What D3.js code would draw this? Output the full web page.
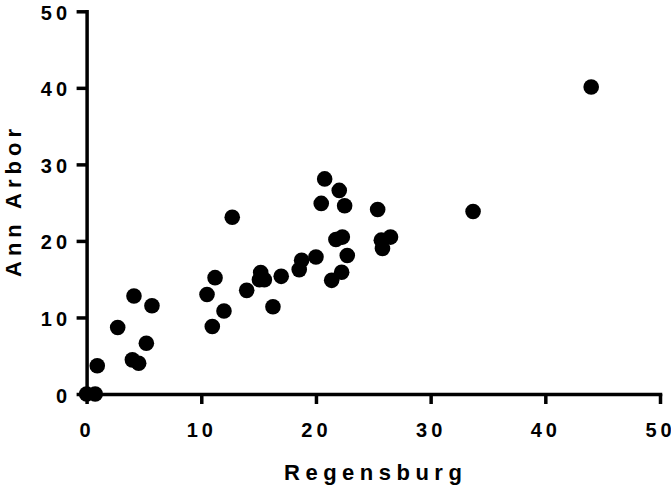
<!DOCTYPE html>
<html>
<head>
<meta charset="utf-8">
<script src="https://cdn.jsdelivr.net/npm/d3@7"></script>
<style>
  html, body { margin: 0; padding: 0; background: #fff; }
  svg { display: block; }
  text { font-family: "Liberation Sans", Arial, sans-serif; font-weight: bold; fill: #000; }
</style>
</head>
<body>
<svg id="chart" width="671" height="485"></svg>
<script>
const regensburg = [0, 0.75, 0.93, 2.71, 4.13, 5.70, 5.21, 3.99, 4.54, 10.5, 11.2, 11.98, 10.96, 12.7, 13.96,
  15.18, 15.07, 15.5, 16.97, 16.25, 18.54, 18.75, 20.0, 20.76, 22.03, 20.46, 22.5, 25.38, 21.74, 22.3,
  22.73, 22.24, 21.37, 25.7, 26.5, 25.8, 33.7, 44.0];
const annArbor = [0, 0, 3.7, 8.69, 12.8, 11.53, 6.64, 4.46, 4.02, 13.0, 15.2, 10.84, 8.82, 23.1, 13.54,
  15.86, 14.94, 14.94, 15.37, 11.4, 16.25, 17.47, 17.9, 28.1, 26.6, 24.9, 24.6, 24.1, 20.18, 20.5,
  18.09, 15.9, 14.85, 20.1, 20.5, 19.0, 23.85, 40.1];
const xTicks = [0, 10, 20, 30, 40, 50];
const yTicks = [0, 10, 20, 30, 40, 50];
const xTitle = "Regensburg";
const yTitle = "Ann Arbor";

const svg = d3.select("#chart");
const x = d3.scaleLinear().domain([0, 50]).range([86.6, 660]);
const y = d3.scaleLinear().domain([0, 50]).range([394, 11.3]);

const gx = svg.append("g").attr("transform", `translate(0,${y(0)})`)
  .call(d3.axisBottom(x).tickValues(xTicks).tickSize(10).tickSizeOuter(0).tickFormat(d3.format("d")));
const gy = svg.append("g").attr("transform", `translate(${x(0)},0)`)
  .call(d3.axisLeft(y).tickValues(yTicks).tickSize(10).tickSizeOuter(0).tickFormat(d3.format("d")));

[gx, gy].forEach(g => {
  g.select(".domain").attr("stroke", "#000").attr("stroke-width", 3.5).attr("stroke-linecap", "square");
  g.selectAll(".tick line").attr("stroke", "#000").attr("stroke-width", 3.5);
  g.selectAll(".tick text")
    .attr("font-family", "'Liberation Sans', Arial, sans-serif")
    .attr("font-weight", "bold")
    .attr("font-size", 20)
    .attr("letter-spacing", "4px")
    .attr("fill", "#000");
});
gx.selectAll(".tick text").attr("y", 42.7).attr("dy", 0);
gy.selectAll(".tick text").attr("x", -15.5).attr("dy", 0).attr("y", 8);

svg.append("g").selectAll("circle")
  .data(regensburg.map((v, i) => [v, annArbor[i]]))
  .join("circle")
  .attr("cx", d => x(d[0]))
  .attr("cy", d => y(d[1]))
  .attr("r", 7.8)
  .attr("fill", "#000");

svg.append("text")
  .attr("x", 375.7).attr("y", 480)
  .attr("text-anchor", "middle")
  .attr("font-size", 22)
  .attr("letter-spacing", "5.5px")
  .text(xTitle);

svg.append("text")
  .attr("transform", "translate(20.5,200.5) rotate(-90)")
  .attr("text-anchor", "middle")
  .attr("font-size", 22)
  .attr("letter-spacing", "5px")
  .text(yTitle);
</script>
</body>
</html>
